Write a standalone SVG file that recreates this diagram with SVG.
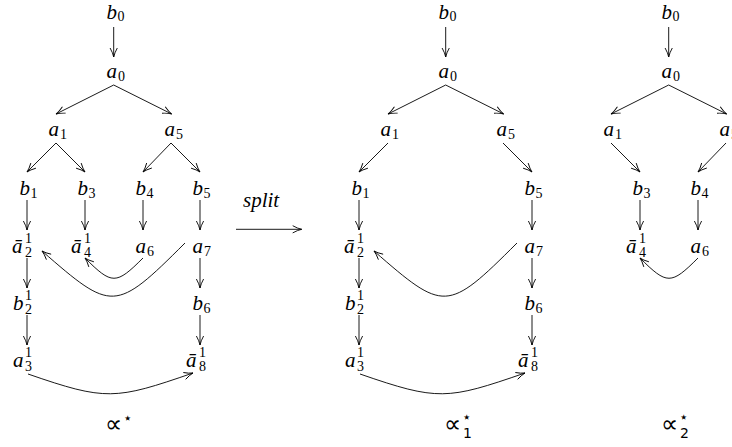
<svg xmlns="http://www.w3.org/2000/svg" width="732" height="447" viewBox="0 0 732 447">
<style>
text{font-family:"Liberation Serif","Times New Roman",serif;fill:#000;font-size:21px;font-style:italic}
.s{font-size:14px;font-style:normal}
.op{font-family:"DejaVu Sans",sans-serif;font-size:24px;font-style:normal}
.st{font-family:"DejaVu Sans",sans-serif;font-size:15px;font-style:normal}
.e{fill:none;stroke:#000;stroke-width:0.9;marker-end:url(#ah)}
</style>
<defs>
<marker id="ah" markerUnits="userSpaceOnUse" markerWidth="14" markerHeight="12" viewBox="-12 -6 14 12" refX="0" refY="0" orient="auto">
<path d="M-9,-3.6 Q-4,-0.8 0,0 Q-4,0.8 -9,3.6" fill="none" stroke="#000" stroke-width="0.9"/>
</marker>
</defs>
<rect width="732" height="447" fill="#fff"/>

<!-- Left graph -->
<g id="graphL">
<g id="L_b0"><text x="106.5" y="18.5">b<tspan class="s" x="117.5" y="21">0</tspan></text></g>
<g id="L_a0"><text x="106.5" y="78">a<tspan class="s" x="118" y="81">0</tspan></text></g>
<g id="L_a1"><text x="48.5" y="136">a<tspan class="s" x="60" y="139">1</tspan></text></g>
<g id="L_a5"><text x="164.5" y="136">a<tspan class="s" x="176" y="139">5</tspan></text></g>
<g id="L_b1"><text x="19.5" y="195">b<tspan class="s" x="30.5" y="198">1</tspan></text></g>
<g id="L_b3"><text x="77.5" y="195">b<tspan class="s" x="88.5" y="198">3</tspan></text></g>
<g id="L_b4"><text x="135.5" y="195">b<tspan class="s" x="146.5" y="198">4</tspan></text></g>
<g id="L_b5"><text x="192.5" y="195">b<tspan class="s" x="203.5" y="198">5</tspan></text></g>
<g id="L_a2bar"><text x="12" y="253">ā<tspan class="s" x="25" y="243">1</tspan><tspan class="s" x="25" y="257">2</tspan></text></g>
<g id="L_a4bar"><text x="71" y="253">ā<tspan class="s" x="84" y="243">1</tspan><tspan class="s" x="84" y="257">4</tspan></text></g>
<g id="L_a6"><text x="135.5" y="253">a<tspan class="s" x="147" y="256">6</tspan></text></g>
<g id="L_a7"><text x="192.5" y="253">a<tspan class="s" x="204" y="256">7</tspan></text></g>
<g id="L_b2"><text x="13" y="310">b<tspan class="s" x="25" y="300">1</tspan><tspan class="s" x="25" y="314">2</tspan></text></g>
<g id="L_b6"><text x="192.5" y="310">b<tspan class="s" x="203.5" y="313">6</tspan></text></g>
<g id="L_a3"><text x="13" y="367">a<tspan class="s" x="25" y="357">1</tspan><tspan class="s" x="25" y="371">3</tspan></text></g>
<g id="L_a8bar"><text x="186" y="367">ā<tspan class="s" x="199" y="357">1</tspan><tspan class="s" x="199" y="371">8</tspan></text></g>
<g id="L_label"><text class="op" x="105" y="432">∝<tspan class="st" x="123" y="423">⋆</tspan></text></g>
</g>

<!-- Middle graph -->
<g id="graphM" transform="translate(332,0)">
<g id="M_b0"><text x="106.5" y="18.5">b<tspan class="s" x="117.5" y="21">0</tspan></text></g>
<g id="M_a0"><text x="106.5" y="78">a<tspan class="s" x="118" y="81">0</tspan></text></g>
<g id="M_a1"><text x="48.5" y="136">a<tspan class="s" x="60" y="139">1</tspan></text></g>
<g id="M_a5"><text x="164.5" y="136">a<tspan class="s" x="176" y="139">5</tspan></text></g>
<g id="M_b1"><text x="19.5" y="195">b<tspan class="s" x="30.5" y="198">1</tspan></text></g>
<g id="M_b5"><text x="192.5" y="195">b<tspan class="s" x="203.5" y="198">5</tspan></text></g>
<g id="M_a2bar"><text x="12" y="253">ā<tspan class="s" x="25" y="243">1</tspan><tspan class="s" x="25" y="257">2</tspan></text></g>
<g id="M_a7"><text x="192.5" y="253">a<tspan class="s" x="204" y="256">7</tspan></text></g>
<g id="M_b2"><text x="13" y="310">b<tspan class="s" x="25" y="300">1</tspan><tspan class="s" x="25" y="314">2</tspan></text></g>
<g id="M_b6"><text x="192.5" y="310">b<tspan class="s" x="203.5" y="313">6</tspan></text></g>
<g id="M_a3"><text x="13" y="367">a<tspan class="s" x="25" y="357">1</tspan><tspan class="s" x="25" y="371">3</tspan></text></g>
<g id="M_a8bar"><text x="186" y="367">ā<tspan class="s" x="199" y="357">1</tspan><tspan class="s" x="199" y="371">8</tspan></text></g>
</g>
<g id="M_label"><text class="op" x="444" y="432">∝<tspan class="st" x="462" y="422">⋆</tspan><tspan class="s" x="463" y="438">1</tspan></text></g>

<!-- Right graph -->
<g id="graphR" transform="translate(555,0)">
<g id="R_b0"><text x="106.5" y="18.5">b<tspan class="s" x="117.5" y="21">0</tspan></text></g>
<g id="R_a0"><text x="106.5" y="78">a<tspan class="s" x="118" y="81">0</tspan></text></g>
<g id="R_a1"><text x="48.5" y="136">a<tspan class="s" x="60" y="139">1</tspan></text></g>
<g id="R_a5"><text x="164.5" y="136">a<tspan class="s" x="176" y="139">5</tspan></text></g>
<g id="R_b3"><text x="77.5" y="195">b<tspan class="s" x="88.5" y="198">3</tspan></text></g>
<g id="R_b4"><text x="135.5" y="195">b<tspan class="s" x="146.5" y="198">4</tspan></text></g>
<g id="R_a4bar"><text x="71" y="253">ā<tspan class="s" x="84" y="243">1</tspan><tspan class="s" x="84" y="257">4</tspan></text></g>
<g id="R_a6"><text x="135.5" y="253">a<tspan class="s" x="147" y="256">6</tspan></text></g>
</g>
<g id="R_label"><text class="op" x="661" y="432">∝<tspan class="st" x="679" y="422">⋆</tspan><tspan class="s" x="680" y="438">2</tspan></text></g>

<!-- split -->
<g id="split"><text x="243" y="207">split</text></g>

<!-- Connectors -->
<g id="connectors">
<path class="e" d="M236,229.3 H301.7"/>
<g id="connL">
<path class="e" d="M113.7,27 V57"/>
<path class="e" d="M113.7,85 L56,114"/>
<path class="e" d="M113.7,85 L171.7,114"/>
<path class="e" d="M56,143 L27,172"/>
<path class="e" d="M56,143 L85,172"/>
<path class="e" d="M171,143 L143,172"/>
<path class="e" d="M171,143 L200,172"/>
<path class="e" d="M27,200 V230"/>
<path class="e" d="M85,200 V230"/>
<path class="e" d="M143,200 V230"/>
<path class="e" d="M200,200 V230"/>
<path class="e" d="M27,258 V288"/>
<path class="e" d="M200,258 V288"/>
<path class="e" d="M27,315 V345"/>
<path class="e" d="M200,315 V345"/>
<path class="e" d="M143,258 C116,285 112,285 85,258"/>
<path class="e" d="M185,243 C115,313 112,312 42,251"/>
<path class="e" d="M28,374 C106,401 115,400 193,373"/>
</g>
<g id="connM" transform="translate(332,0)">
<path class="e" d="M113.7,27 V57"/>
<path class="e" d="M113.7,85 L56,114"/>
<path class="e" d="M113.7,85 L171.7,114"/>
<path class="e" d="M56,143 L27,172"/>
<path class="e" d="M171,143 L200,172"/>
<path class="e" d="M27,200 V230"/>
<path class="e" d="M200,200 V230"/>
<path class="e" d="M27,258 V288"/>
<path class="e" d="M200,258 V288"/>
<path class="e" d="M27,315 V345"/>
<path class="e" d="M200,315 V345"/>
<path class="e" d="M185,243 C115,313 112,312 42,251"/>
<path class="e" d="M28,374 C106,401 115,400 193,373"/>
</g>
<g id="connR" transform="translate(555,0)">
<path class="e" d="M113.7,27 V57"/>
<path class="e" d="M113.7,85 L56,114"/>
<path class="e" d="M113.7,85 L171.7,114"/>
<path class="e" d="M56,143 L85,172"/>
<path class="e" d="M171,143 L143,172"/>
<path class="e" d="M85,200 V230"/>
<path class="e" d="M143,200 V230"/>
<path class="e" d="M143,258 C116,285 112,285 85,258"/>
</g>
</g>
</svg>
